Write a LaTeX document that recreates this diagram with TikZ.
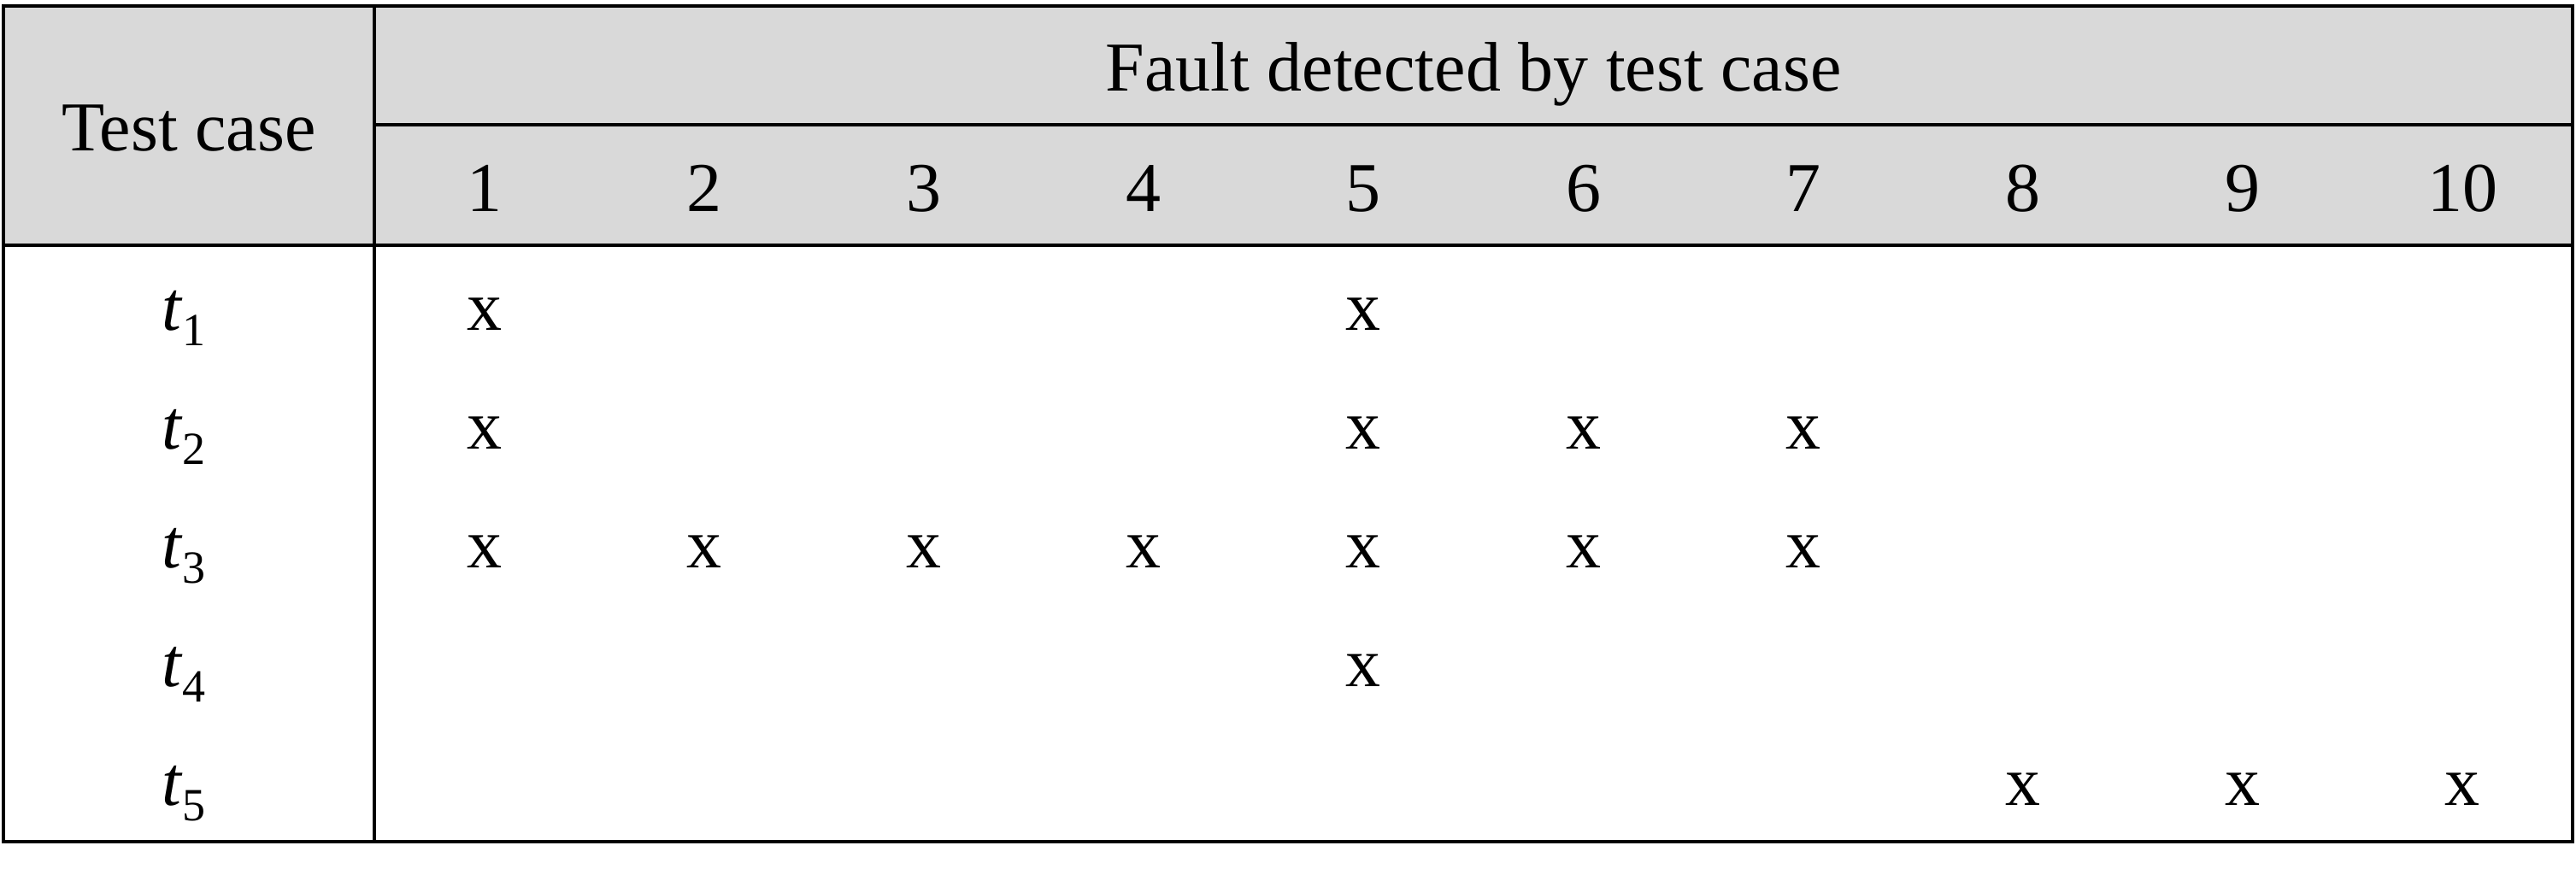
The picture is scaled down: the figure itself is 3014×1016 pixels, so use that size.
\documentclass[tikz,border=0pt]{standalone}
\usepackage{fontspec}
\setmainfont{Liberation Serif}
\definecolor{hdrgray}{HTML}{D9D9D9}
\tikzset{
  cell/.style={anchor=base, inner sep=0pt, font=\fontsize{20.5}{24}\selectfont},
  outer/.style={line width=1.2pt, draw=black},
  inner/.style={line width=1.15pt, draw=black},
  thin/.style={line width=0.95pt, draw=black},
}
\newcommand{\tsub}[1]{{\itshape t}\kern0.5pt\raisebox{-4.5pt}{\fontsize{13.5}{13.5}\selectfont #1}}
\begin{document}
\begin{tikzpicture}[x=0.25pt,y=-0.25pt]
\useasboundingbox (0,0) rectangle (3014,1016);
% header background
\fill[hdrgray] (4,7) rectangle (3010,287);
% lines
\draw[thin] (438,146) -- (3010,146);
\draw[outer] (4,287) -- (3010,287);
\draw[inner] (438,7) -- (438,985);
\draw[outer] (4,7) rectangle (3010,985);
% header texts
\node[cell] (tc) at (221,177) {Test case};
\node[cell] (fd) at (1724,107) {Fault detected by test case};
\foreach \i in {1,...,10} {
  \node[cell] (h\i) at ({438+(\i-0.5)*257.2},247) {\i};
}
% row labels
\foreach \r/\yb in {1/386,2/525,3/664,4/803,5/942} {
  \node[cell] (t\r) at (215,\yb) {\tsub{\r}};
}
% marks
\foreach \r/\c in {1/1,1/5,2/1,2/5,2/6,2/7,3/1,3/2,3/3,3/4,3/5,3/6,3/7,4/5,5/8,5/9,5/10} {
  \pgfmathsetmacro{\yb}{386+(\r-1)*139}
  \node[cell] (m\r-\c) at ({438+(\c-0.5)*257.2},\yb) {x};
}
\end{tikzpicture}
\end{document}
